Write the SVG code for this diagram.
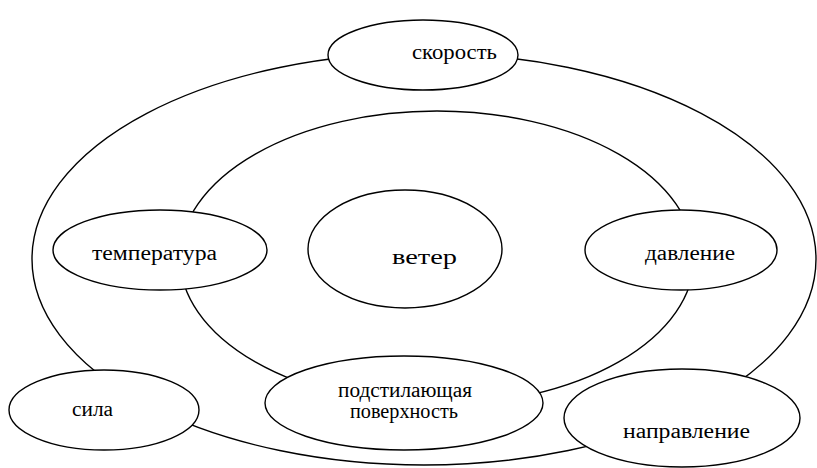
<svg xmlns="http://www.w3.org/2000/svg" width="817" height="468" viewBox="0 0 817 468">
<style>
.ring{fill:none;stroke:#000;stroke-width:1.4}
.node{fill:#fff;stroke:#000;stroke-width:1.4}
.lbl{font-family:'Liberation Serif','DejaVu Serif',serif;font-size:20px;fill:#000}
.big{font-size:22px}
</style>
<rect width="817" height="468" fill="#fff"/>
<g id="connectors">
<ellipse class="ring" cx="424" cy="259" rx="392" ry="206"/>
<ellipse class="ring" cx="437" cy="258" rx="257" ry="147"/>
</g>
<g id="node-skorost">
<ellipse class="node" cx="423" cy="55" rx="95" ry="35"/>
<text class="lbl" x="412" y="59" textLength="85" lengthAdjust="spacingAndGlyphs">скорость</text>
</g>
<g id="node-veter">
<ellipse class="node" cx="405" cy="249" rx="97" ry="59"/>
<text class="lbl big" x="392" y="264" textLength="65" lengthAdjust="spacingAndGlyphs">ветер</text>
</g>
<g id="node-temperatura">
<ellipse class="node" cx="160" cy="250" rx="107" ry="40"/>
<text class="lbl" x="92" y="260" textLength="125" lengthAdjust="spacingAndGlyphs">температура</text>
</g>
<g id="node-davlenie">
<ellipse class="node" cx="681" cy="250" rx="96" ry="40"/>
<text class="lbl" x="645" y="260" textLength="90" lengthAdjust="spacingAndGlyphs">давление</text>
</g>
<g id="node-sila">
<ellipse class="node" cx="104" cy="410" rx="95" ry="40"/>
<text class="lbl" x="72" y="416" textLength="41" lengthAdjust="spacingAndGlyphs">сила</text>
</g>
<g id="node-podst">
<ellipse class="node" cx="404" cy="403" rx="139" ry="47"/>
<text class="lbl" x="338" y="397" textLength="134" lengthAdjust="spacingAndGlyphs">подстилающая</text>
<text class="lbl" x="350" y="418" textLength="108" lengthAdjust="spacingAndGlyphs">поверхность</text>
</g>
<g id="node-napravlenie">
<ellipse class="node" cx="682" cy="418" rx="118" ry="49"/>
<text class="lbl" x="623" y="438" textLength="127" lengthAdjust="spacingAndGlyphs">направление</text>
</g>
</svg>
